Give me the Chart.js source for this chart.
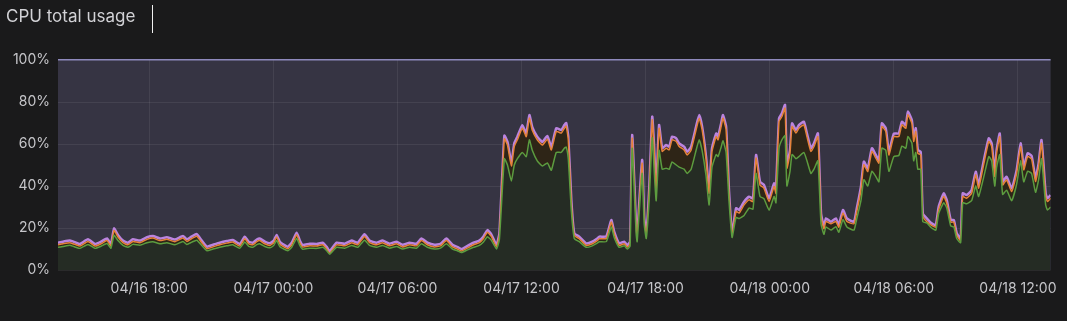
<!DOCTYPE html>
<html>
<head>
<meta charset="utf-8">
<script src="https://cdn.jsdelivr.net/npm/chart.js@4/dist/chart.umd.min.js"></script>
<style>
  html, body { margin: 0; padding: 0; background: #1a1a1b; }
  #wrap { position: relative; width: 1067px; height: 321px; }
  #title { position: absolute; left: 6px; top: 6px; font: 17px Inter, sans-serif; color: #d2d2d6; }
  #caret { position: absolute; left: 152px; top: 5px; width: 1px; height: 28px; background: #f0f0f0; }
  canvas { position: absolute; left: 0; top: 0; }
</style>
</head>
<body>
<div id="wrap">
  <canvas id="chart-cpu" width="1067" height="321"></canvas>
  <div id="title">CPU total usage</div>
  <div id="caret"></div>
</div>
<script>
const ctx = document.getElementById('chart-cpu');

// hours since 04/16 00:00
var hours = [
    13.59,13.83,14.17,14.46,14.65,15.04,15.38,15.67,15.96,16.15,16.30,16.49,16.73,16.97,17.21,17.55,17.89,18.18,18.52,18.85,19.24,19.63,19.82,20.06,20.30,20.54,20.79,21.08,21.41,21.75,22.04,22.38,22.62,22.81,23.01,23.20,23.34,23.59,23.83,24.02,24.16,24.31,24.45,24.70,24.89,25.13,25.28,25.42,25.76,26.10,26.39,26.58,26.72,27.06,27.45,27.79,28.08,28.41,28.65,28.99,29.28,29.62,29.96,30.25,30.59,30.92,31.16,31.45,31.79,32.08,32.37,32.66,32.90,33.10,33.39,33.68,33.96,34.16,34.35,34.54,34.79,34.93,
    35.17,35.32,35.51,35.65,35.80,36.04,36.23,36.38,36.52,36.76,37.01,37.25,37.44,37.68,37.92,38.07,38.16,38.26,38.41,38.55,38.79,39.13,39.42,39.66,
    39.76,40.10,40.34,40.48,40.72,40.97,41.11,41.25,41.35,41.54,41.59,41.83,41.93,42.03,42.17,42.32,42.41,42.51,42.65,42.80,42.99,43.14,43.28,43.48,43.62,43.86,44.01,44.20,44.44,44.59,44.73,44.92,45.07,45.21,45.41,45.50,45.65,45.74,45.89,46.03,46.18,46.37,46.52,46.76,47.00,47.19,47.34,47.53,47.72,47.97,48.21,48.30,48.45,48.59,48.74,48.83,48.98,49.08,49.27,49.41,49.65,49.80,49.99,50.14,50.33,
    50.48,50.62,50.72,50.96,51.20,51.34,51.54,51.73,52.07,52.21,52.41,52.55,52.74,52.94,53.13,53.28,53.42,53.61,53.76,54.00,54.24,54.39,54.58,54.68,54.87,54.96,55.06,55.16,55.30,55.40,55.59,55.83,56.03,56.17,56.41,56.56,56.75,56.90,57.04,57.23,57.33,57.52,57.76,57.96,58.10,58.34,58.59,58.73,58.88,58.97,59.12,59.26,59.45,59.70,59.94,60.13,60.28,60.47,60.66,60.85,61.00,61.14,61.34,61.43,61.58
];

// user share (green line)
var userPct = [
    10.8,11.2,11.8,10.8,10.3,12.2,10.3,11.3,12.6,10.4,16.5,14,11.7,10.8,12.2,11.8,13,13.5,12.5,13,12,13.6,12.2,13.3,14.2,11.7,9.2,10,10.8,11.5,12,10.4,13.3,11.3,10.8,12.1,12.5,11.2,10.6,11.7,14,11.2,10.3,9.2,10.8,15,11.7,9.9,10.4,10.3,10.8,9.2,7.5,10.8,10.4,11.7,10.8,14.2,11.7,10.8,11.7,10.4,11.2,10,10.8,10.4,12.5,10.8,10,10.4,12.5,10,9.2,8.3,9.6,10.8,11.7,13.3,15.8,14.2,10,14.5,
    53,50,42.4,50,53,56,54,62,57,52,49.5,51,47.5,56,56,58,58.5,53,28,15,13.5,10.8,11.5,12.8,
    13.5,13.5,20.5,15.5,10.8,11.5,10,11.5,58,17.5,13.5,46,22,15,33,63,48,33,57,48,48.5,48,51.5,50,49,48,46,48,57,62,57,45,31,49,55,54,58.5,61.5,56,33,15.5,25,24.5,26,29.5,29,46,35,34,28.5,35,32,58,62,64,40,47,55,53,54,56,52,46,48,52,
    22,17,20.5,19,20.6,18,24,20.5,19,24.5,33,43,40,47,44.5,42,58,57,47,54,54.5,59,58,63.5,60.5,52,56,48,48,23,22.4,20,19,27,32,29.5,21,20.5,15,13,32,31.5,33,40,35,44,54,52,40,49,55,36,38,33,41,52,42,47,46,37,43,53,31,28.6,30
];

// user + system (orange line)
var userSysPct = [
    12,12.5,13,12,11.4,13.6,11.4,12.5,14,11.4,18.8,15.7,13,12,13.6,13,14.6,15.2,14,14.6,13.5,15.2,13.6,15,16.1,13,10.1,11,12,12.8,13.3,11.4,14.9,12.5,12,13.5,14,12.5,11.7,13,15.7,12.5,11.4,10.1,12,16.8,13,10.9,11.5,11.4,12,10,8,12,11.5,13,12,16,13,12,13,11.5,12.5,11,12,11.5,14,12,11,11.5,14,11,10,9,10.5,12,13,15,18,16,11,16.5,
    62.5,59.5,49.5,58.8,62,67.5,63.5,72.3,66.5,62,59.5,62.3,57.2,66,65.2,67.5,68.5,62,31.5,16.5,14.9,11.7,12.5,14,
    14.9,15,22.8,17.3,11.7,12.5,10.9,12.5,62.8,19.6,14.9,50.9,23.9,16.5,36.5,71.5,57.2,36.5,67.5,56.5,58,57.2,62,61.2,58.8,57.2,54.8,57.2,66.8,72.3,66.8,52.5,36.5,56.5,63.5,62,68.3,72.3,66.8,36.5,16.5,27.9,27.1,31,33.4,32.6,53.3,40.5,39,32.6,39.8,36.5,70.7,73.1,77.1,48.5,55.6,68.3,65.2,67.5,69.1,63.5,56.5,58.8,63.5,
    25.5,19.6,23.1,22,23.1,20.4,27.1,23.1,22,27.9,38.2,50.1,46.9,56.5,53.3,50.9,68.3,66,54.8,63.5,63.5,69.1,67.5,73.9,69.9,61.2,66,55.6,54.8,25.5,23.1,21.2,20.4,28.7,35,31.8,22.8,22.8,16.5,14,35,34.2,36.5,45.3,39,50.1,61.2,58.8,44.5,55.6,63.5,40.5,42.9,37.4,46.1,58.8,47.7,54.1,52.8,42.2,49.3,60.4,35,32.6,34.2
];

// total busy (purple line)
var totalPct = [
    13,13.5,14,13,12.4,14.6,12.4,13.5,15,12.4,19.8,16.7,14,13,14.6,14,15.6,16.2,15,15.6,14.5,16.2,14.6,16,17.1,14,11.1,12,13,13.8,14.3,12.4,15.9,13.5,13,14.5,15,13.5,12.7,14,16.7,13.5,12.4,11.1,13,17.8,14,11.9,12.5,12.4,13,11,9,13,12.5,14,13,17,14,13,14,12.5,13.5,12,13,12.5,15,13,12,12.5,15,12,11,10,11.5,13,14,16,19,17,12,17.5,
    64,61,51,60.3,63.5,69,65,73.8,68,63.5,61,63.8,58.7,67.5,66.7,69,70,63.5,33,17.5,15.9,12.7,13.5,15,
    15.9,16,23.8,18.3,12.7,13.5,11.9,13.5,64.3,20.6,15.9,52.4,25.4,17.5,38,73,58.7,38,69,58,59.5,58.7,63.5,62.7,60.3,58.7,56.3,58.7,68.3,73.8,68.3,54,38,58,65,63.5,69.8,73.8,68.3,38,17.5,29.4,28.6,32.5,34.9,34.1,54.8,42,40.5,34.1,41.3,38,72.2,74.6,78.6,50,57.1,69.8,66.7,69,70.6,65,58,60.3,65,
    27,20.6,24.6,23,24.6,21.4,28.6,24.6,23,29.4,39.7,51.6,48.4,58,54.8,52.4,69.8,67.5,56.3,65,65,70.6,69,75.4,71.4,62.7,67.5,57.1,56.3,27,24.6,22.2,21.4,30.2,36.5,33.3,23.8,23.8,17.5,15,36.5,35.7,38,46.8,40.5,51.6,62.7,60.3,46,57.1,65,42,44.4,38.9,47.6,60.3,49.2,55.6,54.3,43.7,50.8,61.9,36.5,34.1,35.7
];

var tickHours = [18, 24, 30, 36, 42, 48, 54, 60];
var tickLabels = ['04/16 18:00', '04/17 00:00', '04/17 06:00', '04/17 12:00', '04/17 18:00', '04/18 00:00', '04/18 06:00', '04/18 12:00'];

function pts(arr) {
    return arr.map((v, i) => ({ x: hours[i], y: v }));
}

const plotBg = {
    id: 'plotBg',
    beforeDraw(chart) {
        const a = chart.chartArea;
        chart.ctx.save();
        chart.ctx.fillStyle = '#363443';
        chart.ctx.fillRect(a.left, a.top, a.right - a.left, a.bottom - a.top);
        chart.ctx.restore();
    }
};

new Chart(ctx, {
    type: 'line',
    data: {
        datasets: [
            {
                label: 'user',
                data: pts(userPct),
                borderColor: '#5c9c3f',
                backgroundColor: '#252c24',
                borderWidth: 1.5,
                fill: 'origin'
            },
            {
                label: 'system',
                data: pts(userSysPct),
                borderColor: '#e5823a',
                backgroundColor: '#2e2517',
                borderWidth: 1.5,
                fill: '-1'
            },
            {
                label: 'other',
                data: pts(totalPct),
                borderColor: '#bb84df',
                backgroundColor: '#3a2a26',
                borderWidth: 2.5,
                fill: '-1'
            }
        ]
    },
    options: {
        responsive: false,
        animation: false,
        layout: { padding: { top: 60, right: 15, left: 0, bottom: 0 } },
        elements: { point: { radius: 0 }, line: { tension: 0.15 } },
        scales: {
            x: {
                type: 'linear',
                min: 13.59,
                max: 61.58,
                z: 1,
                border: { display: false },
                grid: { color: 'rgba(255,255,255,0.07)', drawTicks: false },
                afterBuildTicks: scale => { scale.ticks = tickHours.map(v => ({ value: v })); },
                afterFit: scale => { scale.height = 51; },
                ticks: {
                    padding: 10,
                    color: '#c6c6ca',
                    font: { family: 'Inter', size: 14 },
                    maxRotation: 0,
                    autoSkip: false,
                    callback: v => tickLabels[tickHours.indexOf(v)]
                }
            },
            y: {
                min: 0,
                max: 100,
                z: 1,
                border: { display: false },
                grid: {
                    drawTicks: false,
                    color: c => c.tick && c.tick.value === 100 ? '#8e89bd' : 'rgba(255,255,255,0.07)',
                    lineWidth: c => c.tick && c.tick.value === 100 ? 1.5 : 1
                },
                afterFit: scale => { scale.width = 58; },
                ticks: {
                    stepSize: 20,
                    padding: 8,
                    color: '#c6c6ca',
                    font: { family: 'Inter', size: 14 },
                    callback: v => v + '%'
                }
            }
        },
        plugins: {
            legend: { display: false },
            tooltip: { enabled: false }
        }
    },
    plugins: [plotBg]
});
</script>
</body>
</html>
